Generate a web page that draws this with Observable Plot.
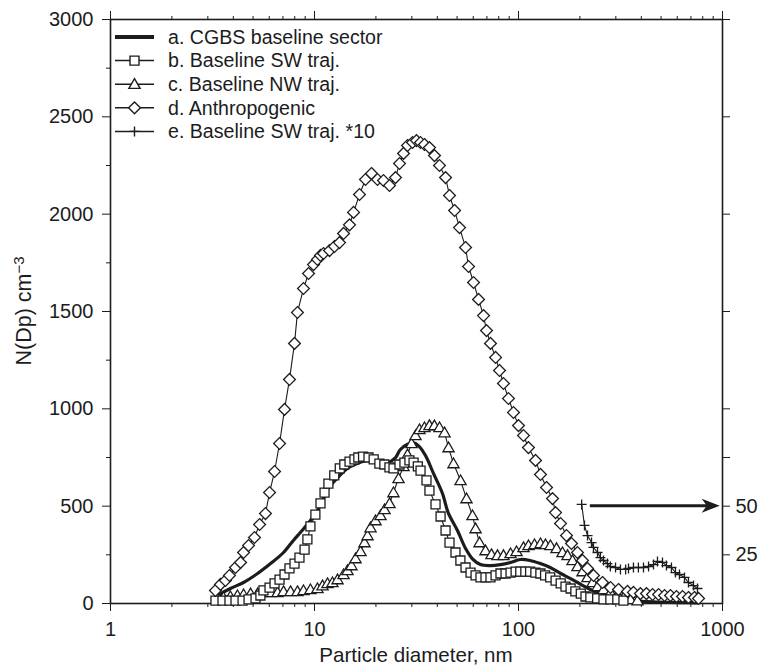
<!DOCTYPE html>
<html><head><meta charset="utf-8">
<script src="https://cdn.jsdelivr.net/npm/d3@7"></script>
<script src="https://cdn.jsdelivr.net/npm/@observablehq/plot@0.6"></script>
<style>body{margin:0;background:#fff}#chart{width:763px;height:667px}</style>
</head><body><div id="chart"></div>
<script>
// ---- data (particle diameter, nm ; number concentration, cm^-3) ----
const aD=[3.35,3.87,4.49,5.26,6.09,7.05,7.88,8.53,9.55,10.7,11.7,13.0,14.5,16.2,18.1,20.3,22.8,24.9,26.3,28.6,30.6,32.4,35.0,38.3,42.4,45.2,50.2,55.0,59.3,65.1,72.9,81.6,91.4,102,114,128,143,161,180,202,225,252,282,316,354,400,460,530,620,700,760];
const aN=[41,77,108,154,205,262,324,365,426,503,591,647,694,719,735,729,724,748,790,818,825,810,760,668,565,467,375,283,231,200,195,200,211,226,221,205,185,154,128,98,72,51,36,26,15,11,8,6,5,4,3];

const bD=[3.27,3.54,3.83,4.10,4.44,4.75,5.14,5.43,5.62,6.02,6.37,6.74,7.13,7.54,7.98,8.44,8.94,9.23,9.55,10.1,10.7,11.2,11.7,12.5,13.3,14.0,14.85,15.7,16.4,17.3,18.4,19.5,20.8,22.0,23.3,24.4,26.1,27.6,29.2,30.6,32.1,33.1,35.4,36.6,39.2,41.5,43.9,45.9,49.1,51.9,55.0,58.2,61.6,65.1,68.9,72.9,77.2,81.6,86.4,91.4,96.8,102,108,114,121,128,135,143,152,161,170,180,190,202,213,225,243,261,282,305,327];
const bN=[15,15,15,15,15,21,26,41,67,82,103,123,149,180,205,236,277,329,396,457,514,570,616,658,694,714,729,740,750,755,750,740,719,714,699,694,714,724,735,724,704,683,632,580,509,447,375,313,262,221,185,159,144,134,134,134,144,154,154,159,164,164,164,164,159,154,144,134,118,103,87,77,62,51,36,31,26,21,21,21,15];

const cD=[3.35,3.58,3.87,4.19,4.49,4.86,5.26,5.62,6.09,6.59,7.05,7.63,8.25,8.83,9.55,10.34,10.95,11.58,12.25,12.97,13.88,14.52,15.18,15.89,16.81,17.58,18.2,18.82,19.91,21.07,22.04,23.32,24.38,25.82,27.32,28.57,29.89,31.27,32.71,34.6,36.6,38.7,41.0,43.4,45.4,48.0,52.0,55.6,59.5,61.6,64.4,68.9,73.7,78.9,84.4,91.4,97.8,105.8,111.9,119.8,128.2,135.6,143.4,153.6,164.3,173.9,184,194.6,206,217.8,230.6,243.9,261,282.5,305.6,327,354,383];
const cN=[26,31,36,41,46,51,51,57,57,57,62,62,62,67,72,77,92,103,108,123,149,170,195,231,267,313,349,390,426,452,483,514,570,642,704,765,822,863,894,904,915,914,904,878,801,719,632,539,452,385,313,272,252,247,247,257,267,288,298,303,308,303,298,283,262,247,221,190,164,134,108,87,72,57,41,31,21,15];

const dD=[3.27,3.46,3.66,3.83,4.10,4.34,4.49,4.75,5.08,5.38,5.75,6.02,6.37,6.74,7.13,7.54,7.98,8.25,8.83,9.35,9.89,10.34,10.70,11.07,11.85,12.53,13.26,13.88,14.85,15.54,16.62,17.78,19.03,20.36,21.79,23.32,24.95,26.11,27.32,28.57,30.23,31.62,33.08,34.60,36.61,38.74,41.0,43.9,45.9,48.6,51.4,55.0,56.9,60.2,63.7,67.4,69.7,72.9,77.2,80.7,84.4,89.3,94.5,100,105.8,111.9,121.2,128.2,137.2,146.8,151.9,160.7,171.9,181.9,194.6,205.9,217.8,233.2,258.1,282.5,309.2,342.2,366,396,424,454,486,520,556,595,637,681,729,763];
const dN=[67,98,118,144,185,211,262,298,339,406,462,570,678,822,997,1151,1336,1495,1618,1695,1741,1767,1788,1798,1813,1834,1854,1901,1945,2009,2101,2178,2209,2178,2173,2147,2188,2260,2312,2353,2368,2378,2368,2358,2342,2301,2250,2188,2096,2019,1931,1829,1731,1649,1562,1479,1402,1336,1264,1197,1130,1053,981,914,863,801,735,663,596,539,467,411,349,308,262,221,180,144,108,82,72,62,57,51,51,46,46,41,41,36,36,31,31,26];

// e = baseline SW traj. multiplied by 10 (read against the left axis)
const eD=[204,210.6,218,228,233,244,252,261,273,282,299,316,335,346,366,387,410,434,459,480,508,531,562,588,615,651,681,721,754];
const eN=[509,401,349,313,288,262,236,221,205,190,185,175,175,180,185,185,185,190,200,216,211,195,185,159,149,134,108,92,77];

const legendLabels=["a. CGBS baseline sector","b. Baseline SW traj.","c. Baseline NW traj.","d. Anthropogenic","e. Baseline SW traj. *10"];
const yMajor=[0,500,1000,1500,2000,2500,3000];
const yMinor=[250,750,1250,1750,2250,2750];
const xMajor=[1,10,100,1000];
const xMinor=[2,3,4,5,6,7,8,9,20,30,40,50,60,70,80,90,200,300,400,500,600,700,800,900];
const rightLabels=[25,50];       // right-hand scale (values of series b)
const rightFactor=10;            // e = b * 10
const arrowFrom=225, arrowTo=975, arrowAt=500;

// ---- styling ----
const INK="#1c1c1c";
const FONT='"Liberation Sans", Arial, Helvetica, sans-serif';
const sq={draw(c){c.moveTo(-4.5,-4.5);c.lineTo(4.5,-4.5);c.lineTo(4.5,4.5);c.lineTo(-4.5,4.5);c.closePath();}};
const tri={draw(c){c.moveTo(0,-5.5);c.lineTo(5.6,4.2);c.lineTo(-5.6,4.2);c.closePath();}};
const dia={draw(c){c.moveTo(0,-5.9);c.lineTo(5.9,0);c.lineTo(0,5.9);c.lineTo(-5.9,0);c.closePath();}};
const plus={draw(c){c.moveTo(-5,0);c.lineTo(5,0);c.moveTo(0,-5);c.lineTo(0,5);}};

const tbl=(D,N)=>D.map((d,i)=>({d,n:N[i]}));
const A=tbl(aD,aN),B=tbl(bD,bN),C=tbl(cD,cN),Dd=tbl(dD,dN),E=tbl(eD,eN);

const thin={x:"d",y:"n",stroke:INK,strokeWidth:1.1};
const chart=Plot.plot({
  width:763,height:667,marginLeft:110,marginRight:41,marginTop:19,marginBottom:64,
  style:{fontFamily:FONT,fontSize:"20px",color:INK,background:"#fff"},
  x:{type:"log",domain:[1,1000]},
  y:{domain:[0,3000]},
  marks:[
    Plot.axisY({anchor:"left",ticks:yMajor,tickSize:8,tickPadding:9,tickFormat:d=>String(d),label:null,fontSize:20}),
    Plot.axisY({anchor:"left",ticks:yMinor,tickSize:4,tickFormat:()=>"",label:null}),
    Plot.axisY({anchor:"right",ticks:rightLabels.map(v=>v*rightFactor),tickSize:7,tickPadding:6,tickFormat:d=>String(d/rightFactor),label:null,fontSize:20}),
    Plot.axisY({anchor:"right",ticks:[750,1000,1500,2000,2500,3000],tickSize:7,tickFormat:()=>"",label:null}),
    Plot.axisX({anchor:"bottom",ticks:xMajor,tickSize:8,tickPadding:10,tickFormat:d=>String(d),label:null,fontSize:20}),
    Plot.axisX({anchor:"bottom",ticks:xMinor,tickSize:4,tickFormat:()=>"",label:null}),
    Plot.axisX({anchor:"top",ticks:xMajor,tickSize:9,tickFormat:()=>"",label:null}),
    Plot.axisX({anchor:"top",ticks:xMinor,tickSize:4,tickFormat:()=>"",label:null}),
    Plot.frame({stroke:INK,strokeWidth:1.6}),
    Plot.line(A,{x:"d",y:"n",stroke:INK,strokeWidth:3.2,curve:"catmull-rom"}),
    Plot.line(C,thin),
    Plot.dot(C,{x:"d",y:"n",symbol:tri,fill:"#fff",stroke:INK,strokeWidth:1.3}),
    Plot.line(B,thin),
    Plot.dot(B,{x:"d",y:"n",symbol:sq,fill:"#fff",stroke:INK,strokeWidth:1.3}),
    Plot.line(Dd,thin),
    Plot.dot(Dd,{x:"d",y:"n",symbol:dia,fill:"#fff",stroke:INK,strokeWidth:1.3}),
    Plot.line(E,thin),
    Plot.dot(E,{x:"d",y:"n",symbol:plus,fill:"none",stroke:INK,strokeWidth:1.3})
  ]
});
document.getElementById("chart").appendChild(chart);

// ---- annotations drawn with the plot's scales ----
const svg=d3.select(chart);
const sx=v=>chart.scale("x").apply(v), sy=v=>chart.scale("y").apply(v);
const g=svg.append("g").attr("font-family",FONT).attr("fill",INK);

// arrow from series e to right axis
const ax0=sx(arrowFrom), ax1=sx(arrowTo), ay=sy(arrowAt);
g.append("line").attr("x1",ax0).attr("x2",ax1-12).attr("y1",ay).attr("y2",ay).attr("stroke",INK).attr("stroke-width",3);
g.append("path").attr("d",`M${ax1},${ay}L${ax1-18},${ay-7}L${ax1-13},${ay}L${ax1-18},${ay+7}Z`).attr("fill",INK);

// legend
const syms=[null,sq,tri,dia,plus];
const lg=g.append("g").attr("transform","translate(115,37)");
legendLabels.forEach((t,i)=>{
  const yy=i*23.6;
  lg.append("line").attr("x1",0).attr("x2",39).attr("y1",yy).attr("y2",yy).attr("stroke",INK).attr("stroke-width",i===0?4:1.5);
  if(syms[i]) lg.append("path").attr("transform",`translate(19.5,${yy})`).attr("d",d3.symbol(syms[i])()).attr("fill",i===4?"none":"#fff").attr("stroke",INK).attr("stroke-width",1.4);
  lg.append("text").attr("x",53).attr("y",yy).attr("dy","0.35em").attr("text-anchor","start").attr("font-size",19.6).text(t);
});

// axis titles
g.append("text").attr("x",(110+722)/2).attr("y",655).attr("dy","0.35em").attr("text-anchor","middle").attr("font-size",20.6).text("Particle diameter, nm");
const yt=g.append("text").attr("transform","translate(23,311) rotate(-90)").attr("text-anchor","middle").attr("font-size",21.5);
yt.append("tspan").attr("dy","0.35em").text("N(Dp) cm");
yt.append("tspan").attr("dy","-0.45em").attr("font-size",15).text("\u22123");
</script></body></html>
